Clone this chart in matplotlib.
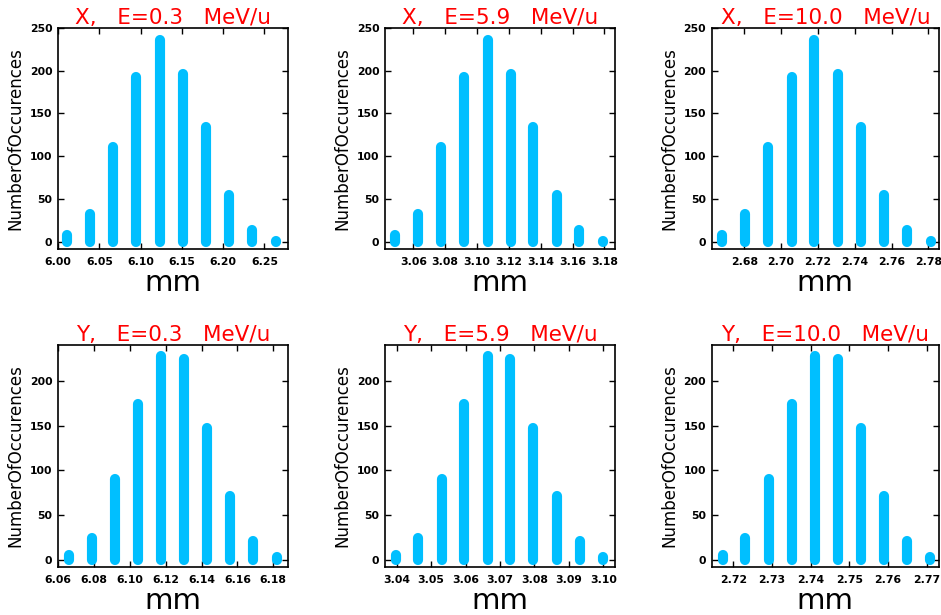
import matplotlib
matplotlib.use('Agg')
import matplotlib.pyplot as plt
from matplotlib.ticker import MultipleLocator, FormatStrFormatter

# bin centres (mm)
x_03 = [6.011, 6.039, 6.067, 6.095, 6.123, 6.151, 6.179, 6.207, 6.235, 6.264]
x_59 = [3.0485, 3.0631, 3.0774, 3.0920, 3.1067, 3.1214, 3.1354, 3.1501, 3.1641, 3.1794]
x_100 = [2.6680, 2.6804, 2.6930, 2.7058, 2.7180, 2.7308, 2.7433, 2.7559, 2.7683, 2.7815]
y_03 = [6.0661, 6.0791, 6.0917, 6.1047, 6.1176, 6.1300, 6.1430, 6.1559, 6.1689, 6.1819]
y_59 = [3.0397, 3.0463, 3.0531, 3.0596, 3.0664, 3.0729, 3.0797, 3.0865, 3.0932, 3.1000]
y_100 = [2.7172, 2.7230, 2.7291, 2.7351, 2.7410, 2.7470, 2.7529, 2.7590, 2.7648, 2.7709]

# occurrences (same shape for every energy)
counts_x = [8, 33, 111, 193, 236, 196, 134, 55, 14, 1]
counts_y = [6, 24, 90, 174, 228, 224, 147, 71, 21, 3]

energies = ['0.3', '5.9', '10.0']

panels = [
    # plane, energy, centres, counts, xlim, tick step
    ('X', energies[0], x_03, counts_x, (5.9999, 6.2786), 0.05),
    ('X', energies[1], x_59, counts_x, (3.0422, 3.1867), 0.02),
    ('X', energies[2], x_100, counts_x, (2.6623, 2.7858), 0.02),
    ('Y', energies[0], y_03, counts_y, (6.0599, 6.1882), 0.02),
    ('Y', energies[1], y_59, counts_y, (3.0366, 3.1034), 0.01),
    ('Y', energies[2], y_100, counts_y, (2.7144, 2.7732), 0.01),
]

W, H = 941, 615
cols_px = [(58, 288), (385, 615), (711.7, 939)]
rows_px = [(28, 249), (345, 566.7)]
ylims = [(-8.5, 250), (-7.5, 240)]

fig = plt.figure(figsize=(W / 100, H / 100), dpi=100)

for i, (plane, energy, xs, counts, xlim, step) in enumerate(panels):
    r, c = divmod(i, 3)
    x0, x1 = cols_px[c]
    t, b = rows_px[r]
    ax = fig.add_axes([x0 / W, 1 - b / H, (x1 - x0) / W, (b - t) / H])

    for xv, n in zip(xs, counts):
        ax.plot([xv, xv], [0, n], color='#00bfff', lw=7.3,
                solid_capstyle='round')

    ax.set_xlim(*xlim)
    ax.set_ylim(*ylims[r])
    ax.xaxis.set_major_locator(MultipleLocator(step))
    ax.xaxis.set_major_formatter(FormatStrFormatter('%.2f'))
    ax.yaxis.set_major_locator(MultipleLocator(50))
    ax.tick_params(direction='in', top=True, right=True, length=4, width=1,
                   labelsize=7.8, pad=4)
    for lab in ax.get_xticklabels() + ax.get_yticklabels():
        lab.set_fontweight('bold')
    ax.tick_params(axis='x', pad=6)
    for s in ax.spines.values():
        s.set_linewidth(1.2)

    ax.set_title(f'{plane},   E={energy}   MeV/u', color='red', fontsize=15.5,
                 pad=3)
    ax.set_ylabel('NumberOfOccurences', fontsize=12)
    ax.yaxis.set_label_coords(-0.145, 0.5)
    ax.set_xlabel('mm', fontsize=21, va='center')
    ax.xaxis.set_label_coords(0.5, -0.155)

fig.savefig('out.png', dpi=100)
